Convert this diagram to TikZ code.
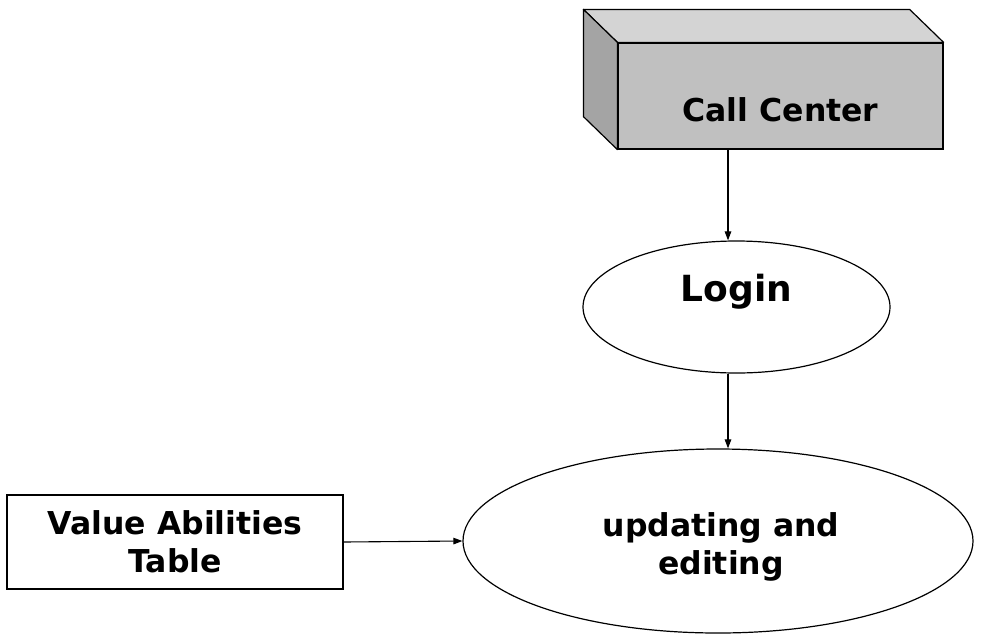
\documentclass[tikz,border=0pt]{standalone}
\usepackage{fontspec}
\setmainfont{DejaVu Sans}
\usetikzlibrary{shapes.geometric,arrows.meta}
\definecolor{facefront}{HTML}{C0C0C0}
\definecolor{facetop}{HTML}{D4D4D4}
\definecolor{faceside}{HTML}{A4A4A4}
\tikzset{
  lbl/.style={font=\bfseries\fontsize{31.5}{38}\selectfont, align=center, text=black},
  shapeline/.style={draw=black, line width=1.2pt},
  arr/.style={draw=black, line width=1.1pt, -{Triangle[length=9pt,width=6.5pt]}},
  oval/.style={ellipse, shapeline, fill=white, inner sep=0pt},
}
\begin{document}
\begin{tikzpicture}[x=1pt,y=-1pt]
\useasboundingbox (0,0) rectangle (984,635);

% Call Center block: front face plus top and side faces
\node[shapeline, fill=facefront, minimum width=325pt, minimum height=106pt, inner sep=0pt] (cc) at (780.5,96) {};
\coordinate (ccbtl) at ([xshift=-34pt,yshift=33pt]cc.north west);
\coordinate (ccbtr) at ([xshift=-34pt,yshift=33pt]cc.north east);
\coordinate (ccbbl) at ([xshift=-34pt,yshift=33pt]cc.south west);
\filldraw[shapeline, fill=facetop, line join=round] (ccbtl) -- (ccbtr) -- (cc.north east) -- (cc.north west) -- cycle;
\filldraw[shapeline, fill=faceside, line join=round] (ccbtl) -- (cc.north west) -- (cc.south west) -- (ccbbl) -- cycle;
\node[lbl] (cclabel) at ([yshift=-14pt]cc.center) {Call Center};

% Login
\node[oval, minimum width=307pt, minimum height=132pt] (login) at (736.5,307) {};
\node[lbl, font=\bfseries\fontsize{36}{42}\selectfont] (loginlabel) at ([yshift=15pt]login.center) {Login};

% Updating and editing
\node[oval, minimum width=510pt, minimum height=184pt] (upd) at (718,541) {};
\node[lbl] (updlabel) at ([xshift=3pt,yshift=-6pt]upd.center) {updating and\\editing};

% Value Abilities Table
\node[shapeline, fill=white, minimum width=336pt, minimum height=94pt, inner sep=0pt, lbl] (val) at (175,542) {Value Abilities\\Table};

% Connectors
\draw[arr] ([xshift=-52.5pt]cc.south) -- ([xshift=-8.5pt]login.north);
\draw[arr] ([xshift=-8.5pt]login.south) -- ([xshift=10pt]upd.north);
\draw[arr] (val.east) -- (upd.west);
\end{tikzpicture}
\end{document}
